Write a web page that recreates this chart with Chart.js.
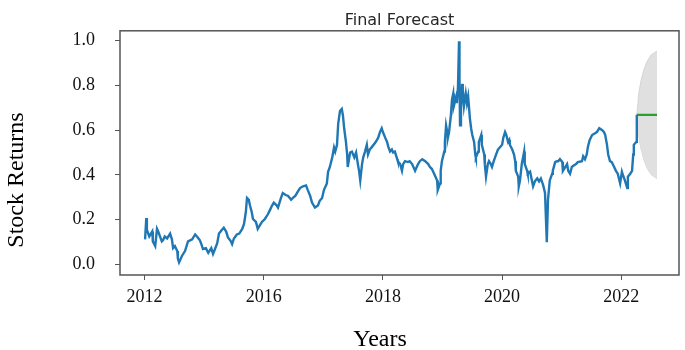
<!DOCTYPE html>
<html>
<head>
<meta charset="utf-8">
<script src="https://cdn.jsdelivr.net/npm/chart.js@4.4.0/dist/chart.umd.min.js"></script>
<style>
  html, body { margin: 0; padding: 0; background: #fff; }
</style>
</head>
<body>
<canvas id="forecastChart" width="685" height="350"></canvas>
<script>
// stock returns history (decimal year)
var years = [
  2014.01,2014.03,2014.04,2014.08,2014.13,2014.14,2014.18,2014.21,2014.23,2014.26,
  2014.29,2014.31,2014.34,2014.38,2014.43,2014.46,2014.48,2014.51,2014.55,2014.56,
  2014.58,2014.63,2014.68,2014.73,2014.80,2014.85,2014.88,2014.93,2014.96,2014.98,
  2015.03,2015.07,2015.12,2015.15,2015.17,2015.22,2015.25,2015.30,2015.33,2015.37,
  2015.40,2015.45,2015.47,2015.50,2015.55,2015.59,2015.64,2015.67,2015.70,2015.72,
  2015.75,2015.77,2015.80,2015.82,2015.87,2015.90,2015.94,2015.97,2016.02,2016.07,
  2016.11,2016.14,2016.17,2016.22,2016.24,2016.29,2016.32,2016.37,2016.41,2016.46,
  2016.49,2016.53,2016.58,2016.61,2016.66,2016.71,2016.74,2016.78,2016.81,2016.86,
  2016.91,2016.94,2016.98,2017.01,2017.06,2017.08,2017.11,2017.15,2017.18,2017.20,
  2017.23,2017.25,2017.28,2017.31,2017.33,2017.35,2017.38,2017.40,2017.41,2017.45,
  2017.48,2017.52,2017.55,2017.58,2017.60,2017.62,2017.65,2017.67,2017.70,2017.73,
  2017.75,2017.78,2017.82,2017.87,2017.92,2017.95,2017.98,2018.00,2018.04,2018.07,
  2018.09,2018.12,2018.15,2018.17,2018.20,2018.24,2018.25,2018.29,2018.32,2018.34,
  2018.37,2018.42,2018.45,2018.49,2018.54,2018.59,2018.62,2018.66,2018.71,2018.76,
  2018.79,2018.82,2018.86,2018.91,2018.92,2018.96,2018.97,2018.99,2019.03,2019.04,
  2019.06,2019.08,2019.09,2019.11,2019.14,2019.16,2019.18,2019.19,2019.23,2019.24,
  2019.26,2019.277,2019.285,2019.294,2019.31,2019.33,2019.34,2019.36,2019.39,2019.41,
  2019.43,2019.46,2019.48,2019.50,2019.53,2019.55,2019.56,2019.60,2019.61,2019.65,
  2019.66,2019.70,2019.71,2019.73,2019.76,2019.78,2019.81,2019.83,2019.86,2019.90,
  2019.93,2019.96,2020.00,2020.02,2020.05,2020.07,2020.10,2020.12,2020.13,2020.17,
  2020.20,2020.22,2020.23,2020.27,2020.28,2020.30,2020.33,2020.37,2020.38,2020.42,
  2020.43,2020.47,2020.50,2020.52,2020.55,2020.59,2020.62,2020.65,2020.69,2020.72,
  2020.75,2020.77,2020.80,2020.84,2020.85,2020.89,2020.92,2020.94,2020.97,2021.01,
  2021.02,2021.06,2021.09,2021.11,2021.14,2021.17,2021.19,2021.24,2021.27,2021.34,
  2021.36,2021.39,2021.42,2021.44,2021.47,2021.51,2021.56,2021.59,2021.63,2021.68,
  2021.71,2021.73,2021.76,2021.78,2021.81,2021.84,2021.88,2021.91,2021.94,2021.96,
  2021.98,2022.01,2022.03,2022.06,2022.10,2022.11,2022.15,2022.18,2022.20,2022.21,
  2022.25,2022.26
];
var returns = [
  .112,.207,.155,.125,.147,.103,.082,.159,.147,.125,
  .103,.108,.125,.116,.138,.112,.073,.082,.060,.026,
  .009,.039,.060,.103,.112,.134,.125,.108,.086,.069,
  .073,.052,.073,.047,.060,.095,.138,.155,.164,.147,
  .121,.103,.091,.116,.134,.138,.159,.181,.233,.297,
  .289,.263,.233,.203,.190,.159,.177,.190,.203,.224,
  .246,.263,.276,.263,.254,.297,.319,.310,.306,.289,
  .297,.306,.328,.341,.349,.353,.332,.306,.276,.254,
  .263,.284,.297,.332,.362,.414,.435,.478,.522,.504,
  .534,.629,.685,.694,.664,.608,.547,.491,.435,.500,
  .504,.478,.500,.448,.418,.375,.448,.478,.504,.534,
  .491,.513,.526,.543,.565,.591,.608,.591,.565,.547,
  .526,.504,.513,.500,.504,.470,.461,.448,.418,.448,
  .461,.457,.461,.448,.418,.448,.461,.470,.461,.448,
  .435,.427,.405,.375,.332,.362,.418,.461,.504,.547,
  .621,.591,.565,.591,.664,.737,.763,.707,.750,.720,
  .793,.996,.836,.621,.694,.806,.780,.707,.763,.720,
  .750,.651,.608,.578,.547,.491,.478,.504,.547,.578,
  .534,.491,.448,.392,.448,.461,.448,.435,.461,.491,
  .513,.522,.534,.565,.591,.578,.547,.556,.534,.513,
  .491,.461,.418,.392,.349,.375,.448,.504,.448,.418,
  .405,.414,.375,.349,.371,.384,.371,.384,.353,.319,
  .099,.289,.375,.405,.418,.457,.461,.461,.470,.457,
  .418,.435,.448,.418,.405,.435,.440,.448,.457,.461,
  .483,.470,.491,.526,.556,.578,.586,.591,.608,.599,
  .591,.578,.534,.491,.461,.457,.435,.418,.405,.384,
  .362,.414,.397,.375,.341,.392,.405,.418,.491,.534,
  .547,.668
];

// forecast and its confidence band
var forecastYears = [2022.26, 2022.28, 2022.29, 2022.33, 2022.38, 2022.43, 2022.50, 2022.60];
var forecastMean  = [0.668, 0.668, 0.668, 0.668, 0.668, 0.668, 0.668, 0.668];
var forecastUpper = [0.668, 0.720, 0.760, 0.820, 0.870, 0.905, 0.935, 0.953];
var forecastLower = [0.668, 0.616, 0.576, 0.516, 0.466, 0.431, 0.401, 0.383];

// axis ticks
var xTickValues = [2014, 2016, 2018, 2020, 2022];
var xTickLabels = ['2012', '2016', '2018', '2020', '2022'];
var yTickValues = [0, 0.2, 0.4, 0.6, 0.8, 1.0];

function toPoints(xs, ys) {
  return xs.map(function (x, i) { return {x: x, y: ys[i]}; });
}

// frame round the plot area, title and axis names
var frameAndText = {
  id: 'frameAndText',
  afterDraw: function (chart) {
    var ctx = chart.ctx;
    var area = chart.chartArea;
    ctx.save();
    ctx.strokeStyle = '#555';
    ctx.lineWidth = 1.5;
    ctx.strokeRect(area.left, area.top, area.right - area.left, area.bottom - area.top);

    ctx.fillStyle = '#262626';
    ctx.font = '16px "DejaVu Sans"';
    ctx.textAlign = 'center';
    ctx.textBaseline = 'alphabetic';
    ctx.fillText('Final Forecast', (area.left + area.right) / 2, area.top - 6);

    ctx.fillStyle = '#000';
    ctx.font = '24px "Liberation Serif"';
    ctx.fillText('Years', 380, 346);

    ctx.translate(23, 180);
    ctx.rotate(-Math.PI / 2);
    ctx.fillText('Stock Returns', 0, 0);
    ctx.restore();
  }
};

var tickFont = {family: '"Liberation Serif", "Times New Roman", serif', size: 18};

var ctx = document.getElementById('forecastChart').getContext('2d');
var myChart = new Chart(ctx, {
  type: 'line',
  data: {
    datasets: [
      {
        label: 'Returns',
        data: toPoints(years, returns),
        borderColor: '#1f77b4',
        borderWidth: 2.4,
        pointRadius: 0,
        fill: false,
        order: 1
      },
      {
        label: 'Forecast',
        data: toPoints(forecastYears, forecastMean),
        borderColor: '#2ca02c',
        borderWidth: 2.2,
        pointRadius: 0,
        fill: false,
        order: 0
      },
      {
        label: 'Upper',
        data: toPoints(forecastYears, forecastUpper),
        borderColor: '#d4d4d4',
        borderWidth: 1,
        backgroundColor: '#e0e0e0',
        pointRadius: 0,
        fill: '+1',
        order: 3
      },
      {
        label: 'Lower',
        data: toPoints(forecastYears, forecastLower),
        borderColor: '#d4d4d4',
        borderWidth: 1,
        pointRadius: 0,
        fill: false,
        order: 4
      }
    ]
  },
  options: {
    responsive: false,
    animation: false,
    layout: {padding: {left: 0, top: 22, right: 6, bottom: 0}},
    plugins: {
      legend: {display: false},
      title: {display: false},
      tooltip: {enabled: false}
    },
    elements: {line: {tension: 0}},
    scales: {
      x: {
        type: 'linear',
        min: 2013.589,
        max: 2022.968,
        afterBuildTicks: function (scale) {
          scale.ticks = xTickValues.map(function (v) { return {value: v}; });
        },
        afterFit: function (scale) { scale.height = 75; },
        ticks: {
          autoSkip: false,
          maxRotation: 0,
          padding: 6,
          color: '#111',
          font: tickFont,
          callback: function (value) {
            return xTickLabels[xTickValues.indexOf(value)];
          }
        },
        grid: {display: true, drawOnChartArea: false, drawTicks: true, tickLength: 5, color: '#555'},
        border: {display: false}
      },
      y: {
        min: -0.047,
        max: 1.043,
        afterBuildTicks: function (scale) {
          scale.ticks = yTickValues.map(function (v) { return {value: v}; });
        },
        afterFit: function (scale) { scale.width = 120; },
        ticks: {
          padding: 20,
          color: '#111',
          font: tickFont,
          callback: function (value) { return value.toFixed(1); }
        },
        grid: {display: true, drawOnChartArea: false, drawTicks: true, tickLength: 5, color: '#555'},
        border: {display: false}
      }
    }
  },
  plugins: [frameAndText]
});
</script>
</body>
</html>
